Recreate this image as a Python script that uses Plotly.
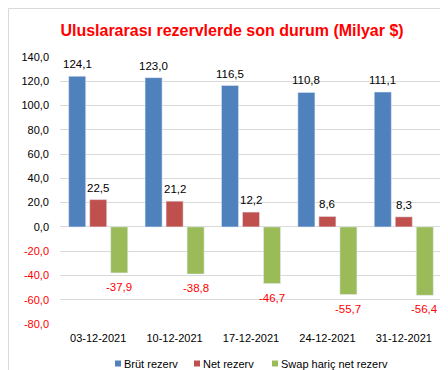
import plotly.graph_objects as go

categories = ["03-12-2021", "10-12-2021", "17-12-2021", "24-12-2021", "31-12-2021"]
brut = [124.1, 123.0, 116.5, 110.8, 111.1]
net = [22.5, 21.2, 12.2, 8.6, 8.3]
swap = [-37.9, -38.8, -46.7, -55.7, -56.4]
series_names = ["Brüt rezerv", "Net rezerv", "Swap hariç net rezerv"]
tick_vals = [140, 120, 100, 80, 60, 40, 20, 0, -20, -40, -60, -80]

FONT = "Liberation Sans"
W, H = 448, 370
ml, mr, mt, mb = 52, 14, 49, 54
pw, ph = W - ml - mr, H - mt - mb
BARGAP, GROUPGAP = 0.175, 0.19
colors = ["#4F81BD", "#C0504D", "#9BBB59"]
label_colors = ["#000000", "#000000", "#ff0000"]
legend_px = [107, 186, 264]  # left edge of each legend swatch (px)

def fmt(v):
    return f"{v:.1f}".replace(".", ",")

def tick_label(v):
    if v < 0:
        return f'<span style="color:#ff0000">{fmt(v)}</span>'
    return fmt(v)

def px_x(p):
    return (p - ml) / pw

def px_y(p):
    return (H - mb - p) / ph

fig = go.Figure()
slot = pw / len(categories) * (1 - BARGAP) / 3
annotations = []
shapes = []
for i, (name, vals) in enumerate(zip(series_names, [brut, net, swap])):
    fig.add_trace(go.Bar(x=categories, y=vals, name=name, marker_color=colors[i]))
    dx = (i - 1) * slot
    for c, v in zip(categories, vals):
        annotations.append(dict(
            x=c, y=v, xref="x", yref="y", text=fmt(v), showarrow=False,
            xshift=dx, yshift=4 if v >= 0 else -6,
            yanchor="bottom" if v >= 0 else "top",
            font=dict(family=FONT, size=11.5, color=label_colors[i])))
    # legend entry
    lx = legend_px[i]
    shapes.append(dict(type="rect", xref="paper", yref="paper",
                       x0=px_x(lx), x1=px_x(lx + 6), y0=px_y(358.5), y1=px_y(352.5),
                       fillcolor=colors[i], line=dict(width=0)))
    annotations.append(dict(x=px_x(lx + 7), y=px_y(355.5), xref="paper", yref="paper",
                            text=name, showarrow=False, xanchor="left", yanchor="middle",
                            font=dict(family=FONT, size=11, color="#000000")))

shapes.append(dict(type="rect", xref="paper", yref="paper",
                   x0=px_x(0.5), x1=px_x(W - 1.5), y0=px_y(H - 1.5), y1=px_y(0.5),
                   line=dict(color="#d9d9d9", width=1), fillcolor="rgba(0,0,0,0)",
                   layer="below"))

fig.update_layout(
    width=W, height=H,
    margin=dict(l=ml, r=mr, t=mt, b=mb, autoexpand=False),
    paper_bgcolor="white", plot_bgcolor="white",
    separators=",.",
    font=dict(family=FONT, size=11, color="#000000"),
    barmode="group", bargap=BARGAP, bargroupgap=GROUPGAP,
    title=dict(text="<b>Uluslararası rezervlerde son durum (Milyar $)</b>",
               x=0.5, xanchor="center", y=1 - 22 / H, yanchor="middle",
               font=dict(family=FONT, size=16, color="#ff0000")),
    showlegend=False,
    yaxis=dict(range=[-80, 140], tickvals=tick_vals,
               ticktext=[tick_label(v) for v in tick_vals],
               showgrid=True, gridcolor="#d9d9d9", gridwidth=1,
               zeroline=True, zerolinecolor="#d9d9d9", zerolinewidth=1,
               showline=False, ticks="", tickfont=dict(size=11),
               ticklabelstandoff=10),
    xaxis=dict(showgrid=False, showline=False, ticks="", tickfont=dict(size=11),
               ticklabelstandoff=6),
    annotations=annotations,
    shapes=shapes,
)

fig.write_html("out.html")
